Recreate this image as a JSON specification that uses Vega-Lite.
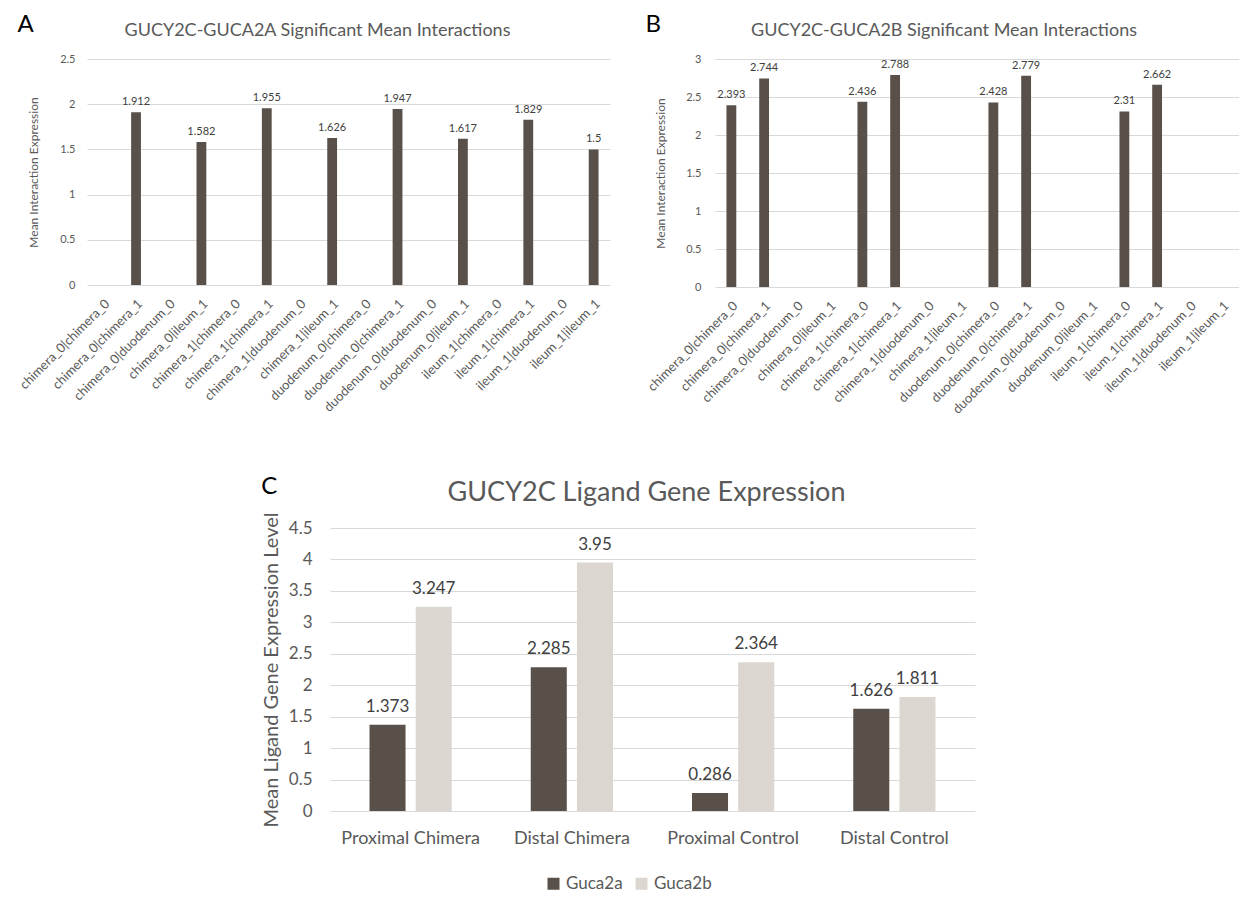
{
  "$schema": "https://vega.github.io/schema/vega-lite/v6.json",
  "background": "white",
  "padding": {"left": 17, "top": 13, "right": 0, "bottom": 0},
  "config": {
    "font": "Lato",
    "view": {"stroke": null},
    "axis": {"labelColor": "#595959", "titleColor": "#595959", "gridColor": "#d9d9d9", "domain": false, "ticks": false, "titleFontWeight": "normal"},
    "title": {"color": "#595959", "fontWeight": "normal"},
    "legend": {"labelColor": "#595959", "layout": {"bottom": {"anchor": "middle"}}}
  },
  "spacing": 58,
  "vconcat": [
    {
      "spacing": 35,
      "hconcat": [
        {
          "title": {"text": "A", "anchor": "start", "fontSize": 24, "color": "#000000", "offset": -15},
          "vconcat": [
            {
              "width": 523,
              "height": 226,
              "title": {"text": "GUCY2C-GUCA2A Significant Mean Interactions", "fontSize": 18, "anchor": "middle", "offset": 13, "dx": -31},
              "data": {"values": [
                {"pair": "chimera_0|chimera_1", "value": 1.912},
                {"pair": "chimera_0|ileum_1", "value": 1.582},
                {"pair": "chimera_1|chimera_1", "value": 1.955},
                {"pair": "chimera_1|ileum_1", "value": 1.626},
                {"pair": "duodenum_0|chimera_1", "value": 1.947},
                {"pair": "duodenum_0|ileum_1", "value": 1.617},
                {"pair": "ileum_1|chimera_1", "value": 1.829},
                {"pair": "ileum_1|ileum_1", "value": 1.5}
              ]},
              "encoding": {
                "x": {"field": "pair", "type": "nominal", "sort": null,
                  "scale": {"domain": ["chimera_0|chimera_0", "chimera_0|chimera_1", "chimera_0|duodenum_0", "chimera_0|ileum_1", "chimera_1|chimera_0", "chimera_1|chimera_1", "chimera_1|duodenum_0", "chimera_1|ileum_1", "duodenum_0|chimera_0", "duodenum_0|chimera_1", "duodenum_0|duodenum_0", "duodenum_0|ileum_1", "ileum_1|chimera_0", "ileum_1|chimera_1", "ileum_1|duodenum_0", "ileum_1|ileum_1"], "paddingInner": 0.7, "paddingOuter": 0.35},
                  "axis": {"title": null, "labelAngle": -45, "labelFontSize": 13, "labelPadding": 12, "grid": false}},
                "y": {"field": "value", "type": "quantitative", "scale": {"domain": [0, 2.5]},
                  "axis": {"title": "Mean Interaction Expression", "values": [0, 0.5, 1, 1.5, 2, 2.5], "format": "~g", "labelFontSize": 11, "titleFontSize": 12, "labelPadding": 12, "titlePadding": 19}}
              },
              "layer": [
                {"mark": {"type": "bar", "color": "#595049"}},
                {"mark": {"type": "text", "baseline": "bottom", "dy": -5, "fontSize": 11, "color": "#404040"},
                 "encoding": {"text": {"field": "value", "type": "quantitative", "format": "~g"}}}
              ]
            }
          ]
        },
        {
          "title": {"text": "B", "anchor": "start", "fontSize": 24, "color": "#000000", "offset": -15},
          "vconcat": [
            {
              "width": 524,
              "height": 228,
              "title": {"text": "GUCY2C-GUCA2B Significant Mean Interactions", "fontSize": 18, "anchor": "middle", "offset": 13, "dx": -33},
              "data": {"values": [
                {"pair": "chimera_0|chimera_0", "value": 2.393},
                {"pair": "chimera_0|chimera_1", "value": 2.744},
                {"pair": "chimera_1|chimera_0", "value": 2.436},
                {"pair": "chimera_1|chimera_1", "value": 2.788},
                {"pair": "duodenum_0|chimera_0", "value": 2.428},
                {"pair": "duodenum_0|chimera_1", "value": 2.779},
                {"pair": "ileum_1|chimera_0", "value": 2.31},
                {"pair": "ileum_1|chimera_1", "value": 2.662}
              ]},
              "encoding": {
                "x": {"field": "pair", "type": "nominal", "sort": null,
                  "scale": {"domain": ["chimera_0|chimera_0", "chimera_0|chimera_1", "chimera_0|duodenum_0", "chimera_0|ileum_1", "chimera_1|chimera_0", "chimera_1|chimera_1", "chimera_1|duodenum_0", "chimera_1|ileum_1", "duodenum_0|chimera_0", "duodenum_0|chimera_1", "duodenum_0|duodenum_0", "duodenum_0|ileum_1", "ileum_1|chimera_0", "ileum_1|chimera_1", "ileum_1|duodenum_0", "ileum_1|ileum_1"], "paddingInner": 0.7, "paddingOuter": 0.35},
                  "axis": {"title": null, "labelAngle": -45, "labelFontSize": 13, "labelPadding": 12, "grid": false}},
                "y": {"field": "value", "type": "quantitative", "scale": {"domain": [0, 3]},
                  "axis": {"title": "Mean Interaction Expression", "values": [0, 0.5, 1, 1.5, 2, 2.5, 3], "format": "~g", "labelFontSize": 11, "titleFontSize": 12, "labelPadding": 14, "titlePadding": 18}}
              },
              "layer": [
                {"mark": {"type": "bar", "color": "#595049"}},
                {"mark": {"type": "text", "baseline": "bottom", "dy": -5, "fontSize": 11, "color": "#404040"},
                 "encoding": {"text": {"field": "value", "type": "quantitative", "format": "~g"}}}
              ]
            }
          ]
        }
      ]
    },
    {
      "spacing": 10,
      "hconcat": [
        {"width": 164, "height": 1, "data": {"values": []}, "mark": "point", "encoding": {}},
        {
          "title": {"text": "C", "anchor": "start", "fontSize": 24, "color": "#000000", "offset": -20},
          "vconcat": [
            {
              "width": 645,
              "height": 283,
              "title": {"text": "GUCY2C Ligand Gene Expression", "fontSize": 27, "anchor": "middle", "offset": 5, "dx": -6},
              "data": {"values": [
                {"group": "Proximal Chimera", "gene": "Guca2a", "value": 1.373},
                {"group": "Proximal Chimera", "gene": "Guca2b", "value": 3.247},
                {"group": "Distal Chimera", "gene": "Guca2a", "value": 2.285},
                {"group": "Distal Chimera", "gene": "Guca2b", "value": 3.95},
                {"group": "Proximal Control", "gene": "Guca2a", "value": 0.286},
                {"group": "Proximal Control", "gene": "Guca2b", "value": 2.364},
                {"group": "Distal Control", "gene": "Guca2a", "value": 1.626},
                {"group": "Distal Control", "gene": "Guca2b", "value": 1.811}
              ]},
              "encoding": {
                "x": {"field": "group", "type": "nominal", "sort": null,
                  "scale": {"paddingInner": 0.49, "paddingOuter": 0.245},
                  "axis": {"title": null, "labelAngle": 0, "labelFontSize": 18, "labelPadding": 18, "grid": false}},
                "xOffset": {"field": "gene", "type": "nominal", "scale": {"paddingInner": 0.22}},
                "y": {"field": "value", "type": "quantitative", "scale": {"domain": [0, 4.5]},
                  "axis": {"title": "Mean Ligand Gene Expression Level", "values": [0, 0.5, 1, 1.5, 2, 2.5, 3, 3.5, 4, 4.5], "format": "~g", "labelFontSize": 17, "titleFontSize": 20, "labelPadding": 18, "titlePadding": 7}}
              },
              "layer": [
                {"mark": {"type": "bar"},
                 "encoding": {"color": {"field": "gene", "type": "nominal", "scale": {"domain": ["Guca2a", "Guca2b"], "range": ["#595049", "#dcd6d1"]},
                   "legend": {"title": null, "orient": "bottom", "direction": "horizontal", "symbolType": "square", "symbolSize": 144, "labelFontSize": 17, "offset": 28, "symbolStrokeWidth": 0}}}},
                {"mark": {"type": "text", "baseline": "bottom", "dy": -9, "fontSize": 17, "color": "#404040"},
                 "encoding": {"text": {"field": "value", "type": "quantitative", "format": "~g"}}}
              ]
            }
          ]
        }
      ]
    }
  ]
}
